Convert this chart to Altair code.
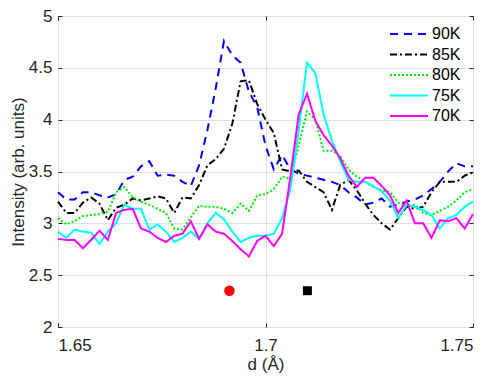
import altair as alt
import numpy as np
import pandas as pd

# d grid (Å)
d = np.round(np.linspace(1.65, 1.75, 51), 3).tolist()

i90 = [3.30, 3.23, 3.23, 3.30, 3.30, 3.27, 3.25, 3.28, 3.42, 3.45,
       3.55, 3.60, 3.46, 3.47, 3.46, 3.40, 3.36, 3.56, 3.90, 4.30,
       4.76, 4.62, 4.55, 4.27, 4.12, 3.75, 3.52, 3.66, 3.52, 3.48,
       3.46, 3.44, 3.42, 3.40, 3.37, 3.30, 3.25, 3.18, 3.20, 3.24,
       3.16, 3.18, 3.21, 3.23, 3.27, 3.33, 3.40, 3.50, 3.58, 3.55, 3.55]
i85 = [3.21, 3.10, 3.10, 3.20, 3.25, 3.19, 3.03, 3.15, 3.18, 3.24,
       3.22, 3.24, 3.26, 3.24, 3.10, 3.25, 3.24, 3.37, 3.56, 3.62,
       3.72, 3.96, 4.37, 4.38, 4.15, 4.00, 3.87, 3.52, 3.50, 3.51,
       3.40, 3.35, 3.30, 3.13, 3.37, 3.42, 3.32, 3.19, 3.08, 3.00,
       2.94, 3.05, 3.16, 3.14, 3.16, 3.30, 3.40, 3.40, 3.40, 3.46, 3.49]
i80 = [3.05, 2.99, 3.02, 3.07, 3.08, 3.09, 3.11, 3.30, 3.35, 3.25,
       3.21, 3.18, 3.14, 3.10, 2.95, 2.94, 3.06, 3.17, 3.16, 3.16,
       3.14, 3.10, 3.19, 3.12, 3.27, 3.28, 3.33, 3.45, 3.43, 3.75,
       4.08, 4.00, 3.70, 3.70, 3.65, 3.52, 3.45, 3.40, 3.35, 3.32,
       3.30, 3.20, 3.16, 3.18, 3.10, 3.08, 3.12, 3.16, 3.22, 3.30, 3.33]
i75 = [2.92, 2.86, 2.94, 2.92, 2.91, 2.80, 2.92, 3.00, 3.18, 3.14,
       3.14, 2.94, 2.99, 2.92, 2.82, 2.86, 2.92, 2.85, 3.00, 3.10,
       3.04, 2.92, 2.82, 2.86, 2.88, 2.88, 2.90, 3.05, 3.33, 3.90,
       4.55, 4.45, 4.05, 3.80, 3.60, 3.42, 3.40, 3.40, 3.36, 3.31,
       3.22, 3.05, 3.18, 3.16, 3.13, 3.08, 2.95, 3.05, 3.08, 3.16, 3.21]
i70 = [2.85, 2.84, 2.84, 2.76, 2.84, 2.93, 2.84, 3.10, 3.13, 3.14,
       2.95, 2.92, 2.86, 2.82, 2.88, 2.90, 3.02, 2.85, 2.99, 2.92,
       2.90, 2.83, 2.75, 2.68, 2.83, 2.88, 2.78, 2.90, 3.45, 4.05,
       4.25, 3.99, 3.85, 3.75, 3.63, 3.46, 3.35, 3.44, 3.44, 3.36,
       3.27, 3.10, 3.22, 3.00, 3.00, 2.86, 3.03, 3.02, 3.05, 2.95, 3.09]

series = ["90K", "85K", "80K", "75K", "70K"]
colors = ["#0000ff", "#000000", "#00ee00", "#00ffff", "#ff00ff"]
dashes = [[8, 6], [7, 3, 2, 3], [2, 2], [1, 0], [1, 0]]

marker_d = [1.6913, 1.7101]
marker_I = [2.35, 2.35]
marker_fill = ["#ff0000", "#000000"]
marker_shape = ["circle", "square"]
marker_size = [110, 80]

x_ticks = [1.65, 1.7, 1.75]
y_ticks = [2, 2.5, 3, 3.5, 4, 4.5, 5]

rows = []
for name, vals in zip(series, [i90, i85, i80, i75, i70]):
    for dv, iv in zip(d, vals):
        rows.append({"d": dv, "I": iv, "series": name})
df = pd.DataFrame(rows)
mdf = pd.DataFrame({"d": marker_d, "I": marker_I, "fill": marker_fill,
                    "shape": marker_shape, "size": marker_size})

FONT = "Liberation Sans"
AX = "#262626"
H = 311
xscale = alt.Scale(domain=[1.65, 1.75], nice=False, zero=False)
yscale = alt.Scale(domain=[2, 5], nice=False, zero=False)

lines = alt.Chart(df).mark_line(strokeWidth=2).encode(
    x=alt.X("d:Q", scale=xscale,
            axis=alt.Axis(values=x_ticks, format=".2~f", title="d (Å)", offset=-4,
                          tickSize=4, domain=False, grid=True, labelPadding=10,
                          titleY=41, titleBaseline="middle")),
    y=alt.Y("I:Q", scale=yscale,
            axis=alt.Axis(values=y_ticks, format=".1~f", title="Intensity (arb. units)",
                          offset=-4, tickSize=4, domain=False, grid=True, labelPadding=6,
                          titleX=-35, titleY=H / 2, titleAngle=270, titleBaseline="bottom")),
    color=alt.Color("series:N", scale=alt.Scale(domain=series, range=colors),
                    legend=alt.Legend(title=None)),
    strokeDash=alt.StrokeDash("series:N", scale=alt.Scale(domain=series, range=dashes),
                              legend=alt.Legend(title=None)),
)

markers = alt.Chart(mdf).mark_point(filled=True, opacity=1).encode(
    x=alt.X("d:Q", scale=xscale,
            axis=alt.Axis(orient="top", values=x_ticks, labels=False, title=None, offset=-4,
                          tickSize=4, domain=False, grid=False)),
    y=alt.Y("I:Q", scale=yscale,
            axis=alt.Axis(orient="right", values=y_ticks, labels=False, title=None, offset=-4,
                          tickSize=4, domain=False, grid=False)),
    fill=alt.Fill("fill:N", scale=None),
    shape=alt.Shape("shape:N", scale=None),
    size=alt.Size("size:Q", scale=None),
)

chart = alt.layer(lines, markers).resolve_axis(x="independent", y="independent").properties(
    width=415, height=H,
    autosize=alt.AutoSizeParams(type="none"),
    padding={"left": 50, "top": 8, "right": 6, "bottom": 46},
).configure_view(
    stroke=AX, strokeWidth=1
).configure_axis(
    labelFont=FONT, titleFont=FONT, labelFontSize=17, titleFontSize=17,
    labelColor=AX, titleColor=AX, tickColor=AX, gridColor="#e0e0e0", gridWidth=1,
    titleFontWeight="normal"
).configure_legend(
    orient="none", legendX=331, legendY=10, symbolType="stroke", symbolSize=1444,
    symbolStrokeWidth=2, labelFont=FONT, labelFontSize=16, labelColor="#000000",
    clipHeight=16, rowPadding=4.5, labelOffset=3, padding=0
)

chart.save("out.html", embed_options={"renderer": "svg", "actions": False})
